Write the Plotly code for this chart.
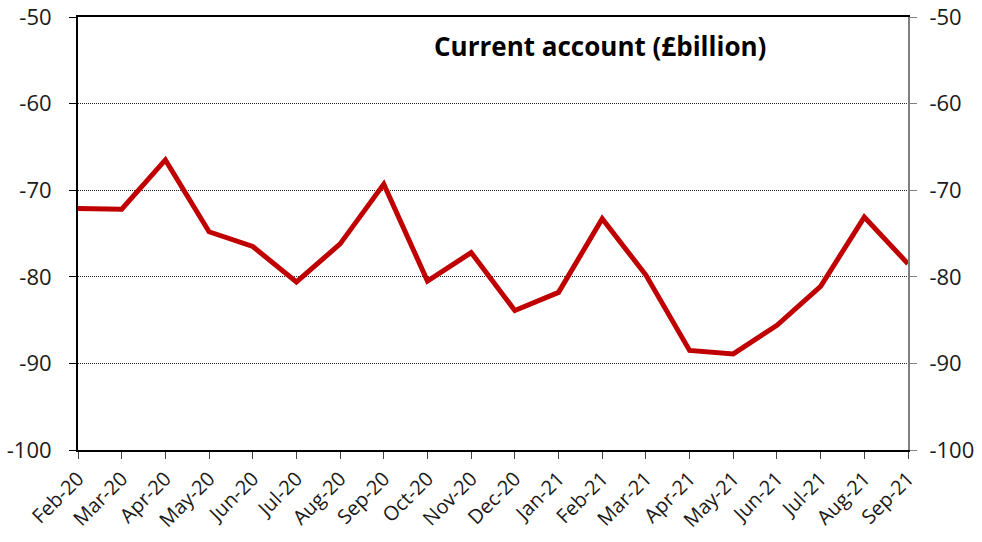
import plotly.graph_objects as go

# Monthly current account balance, £billion
months = ['Feb-20', 'Mar-20', 'Apr-20', 'May-20', 'Jun-20', 'Jul-20', 'Aug-20',
          'Sep-20', 'Oct-20', 'Nov-20', 'Dec-20', 'Jan-21', 'Feb-21', 'Mar-21',
          'Apr-21', 'May-21', 'Jun-21', 'Jul-21', 'Aug-21', 'Sep-21']
current_account = [-72.1, -72.2, -66.5, -74.8, -76.5, -80.6, -76.2, -69.3, -80.5, -77.2,
                   -83.9, -81.8, -73.3, -79.8, -88.5, -88.9, -85.6, -81.1, -73.1, -78.5]
y_ticks = [-100, -90, -80, -70, -60, -50]
y_labels = ['-100', '-90', '-80', '-70', '-60', '-50']

font = "Open Sans, Noto Sans, sans-serif"

fig = go.Figure()
fig.add_scatter(x=months, y=current_account, mode='lines',
                line=dict(color='#C00000', width=5), showlegend=False)
# invisible copy so the right-hand axis gets drawn
fig.add_scatter(x=months, y=current_account, mode='lines', yaxis='y2',
                line=dict(color='rgba(0,0,0,0)', width=0), showlegend=False,
                hoverinfo='skip')

fig.update_layout(
    width=982, height=542,
    margin=dict(l=78, r=74, t=17, b=92),
    plot_bgcolor='white', paper_bgcolor='white',
    font=dict(family=font, size=18, color='#1a1a1a'),
    xaxis=dict(type='category', range=[0, len(months) - 1], tickangle=-45,
               showline=True, linecolor='black', linewidth=2, mirror=True,
               ticks='outside', ticklen=7, tickcolor='#444', tickwidth=1,
               showgrid=False, tickfont=dict(size=20), automargin=False),
    yaxis=dict(range=[-100, -50], tickvals=y_ticks, ticktext=y_labels,
               showline=True, linecolor='black', linewidth=2, ticks='outside',
               ticklen=7, tickcolor='black', showgrid=True, gridcolor='#222',
               griddash='1px,1px', gridwidth=1, zeroline=False,
               ticklabelstandoff=13, ticklabeloverflow='allow',
               tickfont=dict(size=22), automargin=False),
    yaxis2=dict(range=[-100, -50], tickvals=y_ticks, ticktext=y_labels,
                overlaying='y', side='right', showline=True, linecolor='#808080',
                linewidth=2, ticks='outside', ticklen=7, tickcolor='#808080',
                showgrid=False, zeroline=False, ticklabelstandoff=8,
                ticklabeloverflow='allow', tickfont=dict(size=22), automargin=False),
)

fig.add_annotation(text='<b>Current account (£billion)</b>', xref='paper', yref='paper',
                   x=0.629, y=0.933, xanchor='center', yanchor='middle',
                   showarrow=False, font=dict(family=font, size=26, color='black'))

# drop the page's default body margin so the figure sits at the window's corner
fig.write_html("out.html", config={'displayModeBar': False},
               post_script="document.body.style.margin='0';")
